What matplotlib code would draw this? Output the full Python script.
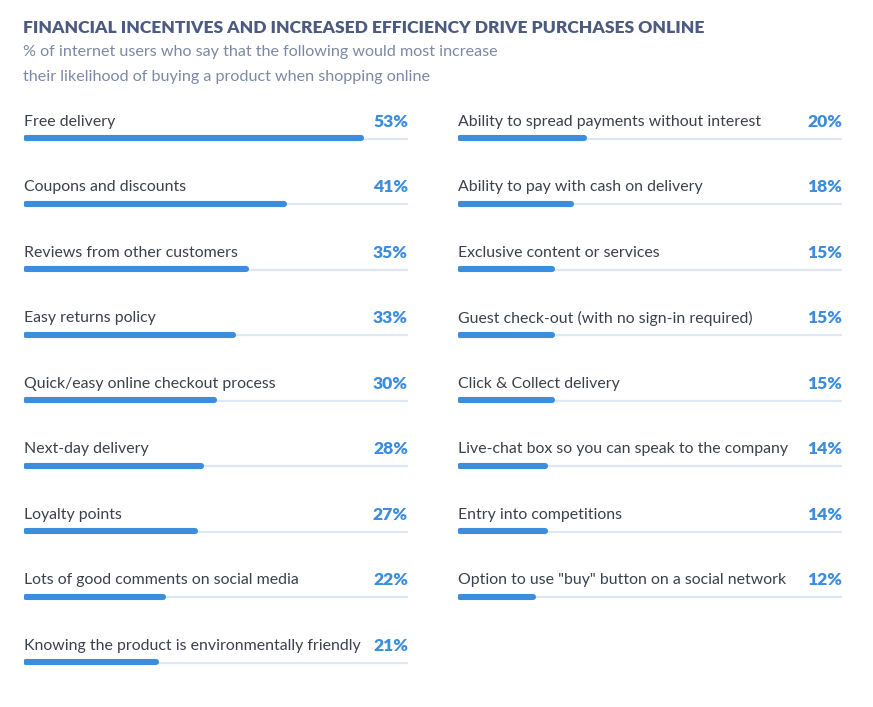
import matplotlib
matplotlib.use("Agg")
import matplotlib.pyplot as plt

# ==============================
# DATA
# ==============================
left_labels = [
    "Free delivery",
    "Coupons and discounts",
    "Reviews from other customers",
    "Easy returns policy",
    "Quick/easy online checkout process",
    "Next-day delivery",
    "Loyalty points",
    "Lots of good comments on social media",
    "Knowing the product is environmentally friendly",
]
left_values = [53, 41, 35, 33, 30, 28, 27, 22, 21]

right_labels = [
    "Ability to spread payments without interest",
    "Ability to pay with cash on delivery",
    "Exclusive content or services",
    "Guest check-out (with no sign-in required)",
    "Click & Collect delivery",
    "Live-chat box so you can speak to the company",
    "Entry into competitions",
    'Option to use "buy" button on a social network',
]
right_values = [20, 18, 15, 15, 15, 14, 14, 12]

title = "FINANCIAL INCENTIVES AND INCREASED EFFICIENCY DRIVE PURCHASES ONLINE"
subtitle = ["% of internet users who say that the following would most increase",
            "their likelihood of buying a product when shopping online"]

# ==============================
# STYLE
# ==============================
W, H = 873, 707
BLUE = "#3c8ddc"
TRACK = "#dfe6f4"
TEXT = "#3b404c"
TITLE_C = "#4d5b80"
SUB_C = "#7d88a4"
plt.rcParams["font.family"] = ["Lato", "DejaVu Sans"]

fig = plt.figure(figsize=(W / 100, H / 100), dpi=100)
fig.patch.set_facecolor("white")

XMAX = 60
ROW = 65.5        # px between rows
FIRST = 138       # px of first bar


def panel(x0, labels, values):
    ax = fig.add_axes([x0 / W, 0, 384 / W, 1])
    ax.set_xlim(0, XMAX)
    ax.set_ylim((H - FIRST) / ROW, -FIRST / ROW)
    ax.axis("off")
    for i, (lab, v) in enumerate(zip(labels, values)):
        ax.hlines(i + 0.012, 0, XMAX, color=TRACK, lw=1.6)
        ax.hlines(i, 0.35, v - 0.35, color=BLUE, lw=4.4, capstyle="round")
        ax.text(0, i - 0.25, lab, ha="left", va="center",
                fontsize=11.4, color=TEXT)
        ax.text(XMAX, i - 0.25, f"{v}%", ha="right", va="center",
                fontsize=12.6, color=BLUE, fontweight="heavy")


panel(24, left_labels, left_values)
panel(458, right_labels, right_values)

fig.text(23 / W, 1 - 28 / H, title, ha="left", va="center",
         fontsize=12.6, fontweight="heavy", color=TITLE_C)
fig.text(23 / W, 1 - 52 / H, subtitle[0], ha="left", va="center",
         fontsize=11.6, color=SUB_C)
fig.text(23 / W, 1 - 77 / H, subtitle[1], ha="left", va="center",
         fontsize=11.6, color=SUB_C)

fig.savefig("out.png", dpi=100, facecolor="white")
